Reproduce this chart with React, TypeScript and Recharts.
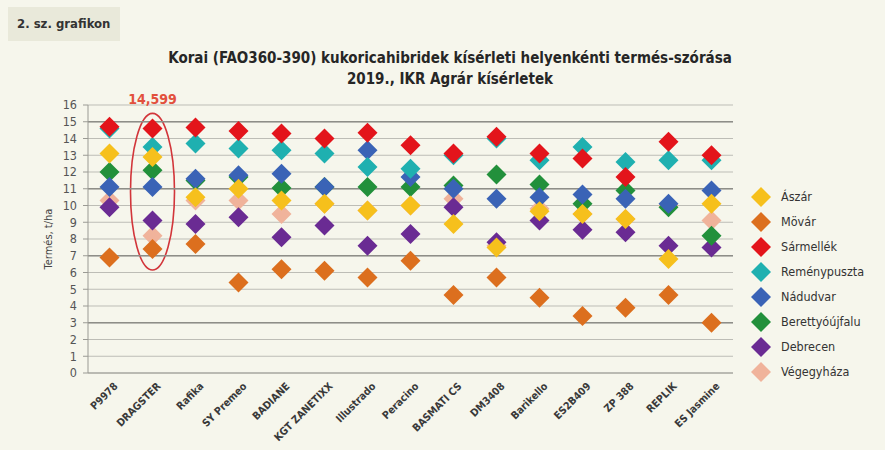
import React from "react";
import {
  ComposedChart,
  Scatter,
  XAxis,
  YAxis,
  CartesianGrid,
  ReferenceLine,
  ReferenceArea,
} from "recharts";

// hibridek
const categories = [
  "P9978",
  "DRAGSTER",
  "Rafika",
  "SY Premeo",
  "BADIANE",
  "KGT ZANETIXX",
  "Illustrado",
  "Peracino",
  "BASMATI CS",
  "DM3408",
  "Barikello",
  "ES2B409",
  "ZP 388",
  "REPLIK",
  "ES Jasmine",
];

// helyenkénti termés, t/ha
const aszar = [13.1, 12.9, 10.5, 11.0, 10.3, 10.1, 9.7, 10.0, 8.9, 7.5, 9.65, 9.5, 9.2, 6.8, 10.1];
const movar = [6.9, 7.4, 7.7, 5.4, 6.2, 6.1, 5.7, 6.7, 4.65, 5.7, 4.5, 3.4, 3.9, 4.65, 3.0];
const sarmellek = [14.7, 14.6, 14.65, 14.45, 14.3, 14.0, 14.35, 13.6, 13.1, 14.1, 13.1, 12.8, 11.7, 13.8, 13.0];
const remenypuszta = [14.6, 13.5, 13.7, 13.4, 13.3, 13.1, 12.3, 12.2, 13.0, 14.0, 12.7, 13.5, 12.6, 12.7, 12.7];
const nadudvar = [11.1, 11.1, 11.6, 11.8, 11.9, 11.1, 13.3, 11.7, 11.0, 10.4, 10.5, 10.65, 10.4, 10.1, 10.9];
const berettyoujfalu = [12.0, 12.1, 11.5, 11.7, 11.05, 11.1, 11.1, 11.1, 11.2, 11.85, 11.25, 10.1, 10.9, 9.9, 8.2];
const debrecen = [9.9, 9.1, 8.9, 9.3, 8.1, 8.8, 7.6, 8.3, 9.9, 7.8, 9.1, 8.55, 8.4, 7.6, 7.5];
const vegegyhaza = [10.3, 8.2, 10.3, 10.3, 9.5, 10.1, 9.7, 10.0, 10.4, 7.6, 9.8, 9.5, 9.2, 10.0, 9.1];

const yTicks = [0, 1, 2, 3, 4, 5, 6, 7, 8, 9, 10, 11, 12, 13, 14, 15, 16];
const darkLines = [3, 7, 11, 15];

const series = [
  { name: "Ászár", values: aszar, color: "#f6c01c" },
  { name: "Mövár", values: movar, color: "#dc6f1e" },
  { name: "Sármellék", values: sarmellek, color: "#e3141b" },
  { name: "Reménypuszta", values: remenypuszta, color: "#1fb0b0" },
  { name: "Nádudvar", values: nadudvar, color: "#3a63b6" },
  { name: "Berettyóújfalu", values: berettyoujfalu, color: "#22903b" },
  { name: "Debrecen", values: debrecen, color: "#6a2b93" },
  { name: "Végegyháza", values: vegegyhaza, color: "#f0b39b" },
];

const chartData = categories.map((name, i) => {
  const row: Record<string, string | number> = { name };
  series.forEach((s) => {
    row[s.name] = s.values[i];
  });
  return row;
});

const FONT = "'DejaVu Sans Condensed', 'DejaVu Sans', sans-serif";

const Diamond = (color: string) => (props: any) => {
  const { cx, cy } = props;
  if (cx == null || cy == null) return null;
  const r = 10;
  return (
    <polygon
      points={`${cx},${cy - r} ${cx + r},${cy} ${cx},${cy + r} ${cx - r},${cy}`}
      fill={color}
    />
  );
};

const XTick = (props: any) => {
  const { x, y, payload } = props;
  return (
    <g transform={`translate(${x + 6},${y + 3})`}>
      <text
        transform="rotate(-45)"
        textAnchor="end"
        dy={4}
        fontSize={10.5}
        fontWeight={700}
        fill="#3a3a3a"
        fontFamily={FONT}
        style={{ fontStretch: "condensed" }}
      >
        {payload.value}
      </text>
    </g>
  );
};

// DRAGSTER kiemelése
const Highlight = (props: any) => {
  const { x, y, width, height } = props;
  const cx = x + width / 2;
  const cy = y + height / 2;
  return (
    <g>
      <ellipse cx={cx} cy={cy} rx={22} ry={height / 2} fill="none" stroke="#d2353a" strokeWidth={1.6} />
      <text
        x={cx}
        y={y - 9}
        textAnchor="middle"
        fontSize={14}
        fontWeight={700}
        fill="#e2503d"
        fontFamily={FONT}
        style={{ fontStretch: "condensed" }}
      >
        14,599
      </text>
    </g>
  );
};

export default function App() {
  return (
    <div
      style={{
        position: "absolute",
        left: 0,
        top: 0,
        width: 885,
        height: 450,
        background: "#f6f6ec",
        fontFamily: FONT,
        fontStretch: "condensed",
        overflow: "hidden",
      }}
    >
      <div
        style={{
          position: "absolute",
          left: 8,
          top: 7,
          width: 112,
          height: 34,
          background: "#e9e9da",
          fontSize: 13,
          fontWeight: 700,
          color: "#333",
          lineHeight: "34px",
          paddingLeft: 9,
          boxSizing: "border-box",
        }}
      >
        2. sz. grafikon
      </div>
      <div
        style={{
          position: "absolute",
          left: 100,
          width: 700,
          top: 48,
          textAlign: "center",
          fontSize: 15,
          fontWeight: 700,
          color: "#262626",
          lineHeight: "21px",
        }}
      >
        Korai (FAO360-390) kukoricahibridek kísérleti helyenkénti termés-szórása
        <br />
        2019., IKR Agrár kísérletek
      </div>

      <div style={{ position: "absolute", left: 0, top: 0 }}>
        <ComposedChart
          width={885}
          height={450}
          data={chartData}
          margin={{ top: 105, right: 152, bottom: 47, left: 40 }}
        >
          <CartesianGrid vertical={false} stroke="#bdbdb6" strokeWidth={1} />
          {darkLines.map((v) => (
            <ReferenceLine key={v} y={v} stroke="#8e8e88" strokeWidth={1.4} />
          ))}
          <XAxis
            dataKey="name"
            type="category"
            height={30}
            padding={{ left: 21.5, right: 21.5 }}
            tick={<XTick />}
            tickLine={false}
            axisLine={{ stroke: "#9a9a94" }}
            interval={0}
          />
          <YAxis
            domain={[0, 16]}
            ticks={yTicks}
            interval={0}
            width={48}
            tickSize={5}
            tickMargin={6}
            tickLine={{ stroke: "#9a9a94" }}
            axisLine={{ stroke: "#9a9a94" }}
            tick={{ fontSize: 12.5, fill: "#555", fontFamily: FONT }}
            label={{
              value: "Termés, t/ha",
              angle: -90,
              position: "insideLeft",
              offset: 8,
              style: { fontSize: 11, fill: "#444", fontFamily: FONT, textAnchor: "middle" },
            }}
          />
          <ReferenceArea
            x1="DRAGSTER"
            x2="DRAGSTER"
            y1={6.15}
            y2={15.5}
            shape={<Highlight />}
          />
          {[...series].reverse().map((s) => (
            <Scatter
              key={s.name}
              dataKey={s.name}
              name={s.name}
              fill={s.color}
              shape={Diamond(s.color)}
              isAnimationActive={false}
            />
          ))}
        </ComposedChart>
      </div>

      <div style={{ position: "absolute", left: 749, top: 184 }}>
        {series.map((s) => (
          <div key={s.name} style={{ display: "flex", alignItems: "center", height: 25 }}>
            <svg width={24} height={24}>
              <polygon points="12,2 22,12 12,22 2,12" fill={s.color} />
            </svg>
            <span style={{ marginLeft: 8, fontSize: 12.5, color: "#333" }}>{s.name}</span>
          </div>
        ))}
      </div>
    </div>
  );
}
